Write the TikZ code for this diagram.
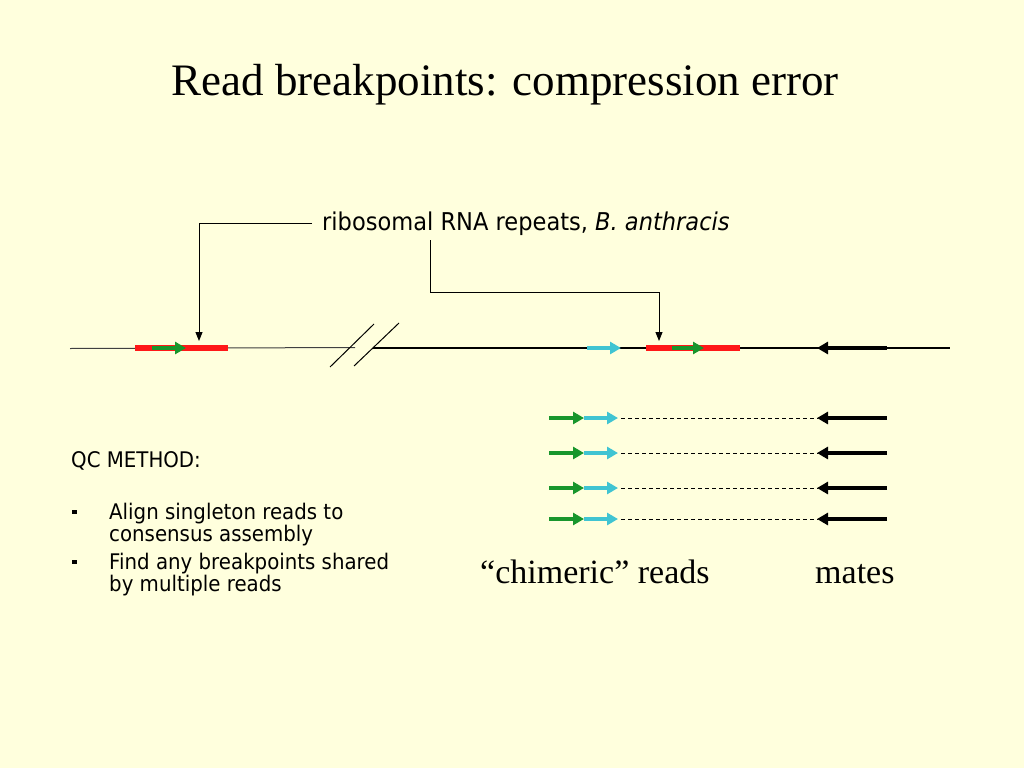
\documentclass[tikz,border=0pt]{standalone}
\usepackage{fontspec}
\setmainfont{Liberation Serif}
\newfontfamily\tah[FakeStretch=0.92]{DejaVu Sans}
\usetikzlibrary{arrows.meta}
\definecolor{bg}{RGB}{255,255,221}
\definecolor{rgreen}{RGB}{24,150,44}
\definecolor{rcyan}{RGB}{64,196,210}
\definecolor{rred}{RGB}{255,24,24}
\tikzset{
  readarrow/.style={line width=4pt,-{Triangle[length=11pt,width=12pt]}},
  greenread/.style={readarrow,draw=rgreen},
  cyanread/.style={readarrow,draw=rcyan},
  materead/.style={readarrow,draw=black},
  repeatbar/.style={line width=6pt,draw=rred},
  callarrow/.style={line width=1pt,-{Triangle[length=9pt,width=7pt]}},
  gap/.style={line width=0.8pt,dashed,dash pattern=on 4pt off 3pt},
  calloutlabel/.style={inner sep=0pt,anchor=base west,font=\tah\fontsize{24.5}{28}\selectfont},
  qctext/.style={inner sep=0pt,anchor=base west,font=\tah\fontsize{21.5}{18.5}\selectfont},
  bulletitem/.style={qctext,align=left},
  serifcaption/.style={inner sep=0pt,anchor=base west,font=\fontsize{34}{38}\selectfont},
  bulletsq/.style={fill=black},
}
\begin{document}
\begin{tikzpicture}[x=1pt,y=-1pt]
\fill[bg] (0,0) rectangle (1024,768);
\useasboundingbox (0,0) rectangle (1024,768);

% title
\node[anchor=base,inner sep=0pt,font=\fontsize{45}{50}\selectfont] (title) at (505,95) {Read breakpoints: compression error};

% genome line
\coordinate (g0) at (70,348.5);
\coordinate (g1) at (355,347.5);
\coordinate (g2) at (373,348);
\coordinate (g3) at (950,348);
\draw[line width=1pt,draw=black!75] (g0) -- (g1);
\draw[line width=2.5pt] (g2) -- (g3);
% break marks
\coordinate (b1a) at (330,367); \coordinate (b1b) at (374,324);
\coordinate (b2a) at (354,366); \coordinate (b2b) at (399,323);
\draw[line width=1pt] (b1a) -- (b1b);
\draw[line width=1pt] (b2a) -- (b2b);

% repeats
\coordinate (rL0) at (135,348); \coordinate (rL1) at (228,348);
\coordinate (rR0) at (646,348); \coordinate (rR1) at (740,348);
\draw[repeatbar] (rL0) -- (rL1);
\draw[repeatbar] (rR0) -- (rR1);
\coordinate (gL0) at (152,348); \coordinate (gL1) at (186,348);
\coordinate (gR0) at (672,348); \coordinate (gR1) at (704,348);
\draw[greenread] (gL0) -- (gL1);
\draw[greenread] (gR0) -- (gR1);
\coordinate (cM0) at (587,348); \coordinate (cM1) at (621,348);
\draw[cyanread] (cM0) -- (cM1);
\coordinate (mM0) at (887,348); \coordinate (mM1) at (817,348);
\draw[materead] (mM0) -- (mM1);

% callout
\node[calloutlabel] (lbl) at (322,230) {ribosomal RNA repeats, \textit{B. anthracis}};
\coordinate (tipL) at (199,341);
\coordinate (tipR) at (659,341);
\coordinate (cR0) at (430,240);
\coordinate (cRm) at (430,292);
\draw[callarrow] ([xshift=-10pt]lbl.west) -| (tipL);
\draw[callarrow] (cR0) -- (cRm) -| (tipR);

% chimeric reads and mates
\foreach \y [count=\i] in {418,453,488,519}{
  \coordinate (ga\i) at (549,\y); \coordinate (gb\i) at (584,\y);
  \coordinate (ca\i) at (584,\y); \coordinate (cb\i) at (618,\y);
  \coordinate (da\i) at (621,\y); \coordinate (db\i) at (818,\y);
  \coordinate (ma\i) at (887,\y); \coordinate (mb\i) at (817,\y);
  \draw[greenread] (ga\i) -- (gb\i);
  \draw[cyanread] (ca\i) -- (cb\i);
  \draw[gap] (da\i) -- (db\i);
  \draw[materead] (ma\i) -- (mb\i);
}

\node[serifcaption] (chim) at (480,583) {“chimeric” reads};
\node[serifcaption] (mates) at (815,583) {mates};

% QC method
\node[qctext] (qc) at (71,467) {QC METHOD:};
\fill[bulletsq] (72,509.5) rectangle (76.5,514);
\fill[bulletsq] (72,559.5) rectangle (76.5,564);
\node[bulletitem] (item1) at (109,541) {Align singleton reads to\\consensus assembly};
\node[bulletitem] (item2) at (109,591) {Find any breakpoints shared\\by multiple reads};
\end{tikzpicture}
\end{document}
